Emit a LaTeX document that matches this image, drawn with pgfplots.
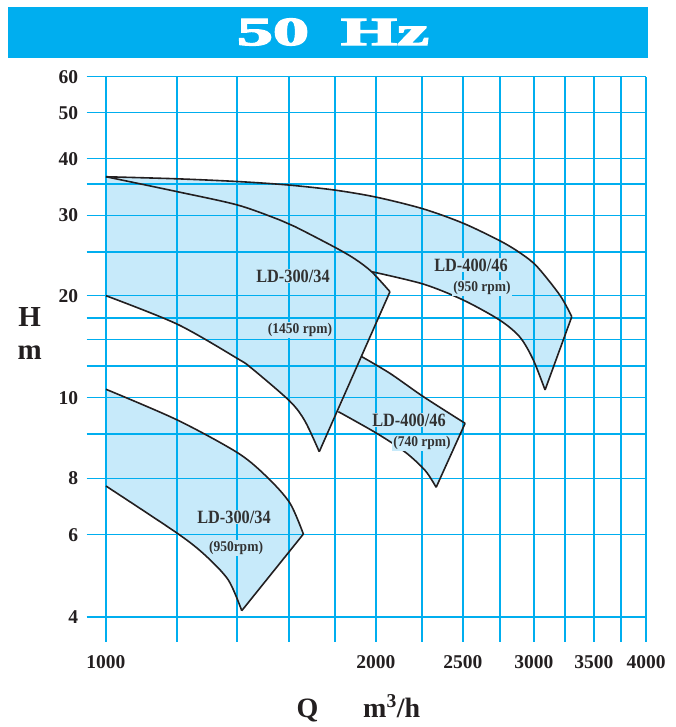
\documentclass[border=0pt]{standalone}
\usepackage{fontspec}
\setmainfont{Liberation Serif}
\newfontfamily\titlefont{Liberation Serif}[UprightFont={* Bold}, FakeBold=3]
\usepackage{pgfplots}
\usepackage{pgfplotstable}
\pgfplotsset{compat=1.18}
\definecolor{gridcyan}{RGB}{0,174,239}
\definecolor{bandblue}{RGB}{199,234,250}
\definecolor{inkc}{RGB}{35,31,32}
\definecolor{labc}{RGB}{50,50,50}
% the chart's H scale: piecewise logarithmic between its printed grid values (u = height in pt above the axis bottom)
\makeatletter
\pgfmathdeclarefunction{hpos}{1}{%
  \begingroup
  \pgfmathparse{ln(#1)}\let\myL\pgfmathresult
  \pgfmathparse{24.7+202.977*(\myL-1.386294)-6.927*max(\myL-1.791759,0)+180.06*max(\myL-2.079442,0)-31.58*max(\myL-2.197225,0)-202.47*max(\myL-2.302585,0)+3.29*max(\myL-2.525729,0)-5.88*max(\myL-2.708050,0)+27.53*max(\myL-2.862201,0)+28.84*max(\myL-2.995732,0)+4.35*max(\myL-3.218876,0)+4.16*max(\myL-3.401197,0)-14.88*max(\myL-3.555348,0)+16.67*max(\myL-3.688879,0)-8.69*max(\myL-3.912023,0)}%
  \pgfmath@smuggleone\pgfmathresult
  \endgroup}
\makeatother
% ---- region polygons (Q in m3/h, H in m) ----
\pgfplotstableread{
Q H
1000 36.37
1201 33.71
1402 31.58
1563 29.33
1625 28.37
1800 25.59
1895 24.12
1978 22.61
2073 20.41
1729 8.586
1667 9.341
1604 9.893
1454 12.29
1402 13.15
1201 16.74
1000 20.00
}\regA
\pgfplotstableread{
Q H
1000 36.37
1201 35.97
1402 35.46
1597 34.83
1800 33.97
2003 32.81
2259 30.98
2503 28.85
2750 26.43
2895 24.89
3022 23.24
3208 20.03
3306 17.64
3087 10.56
2995 13.04
2895 15.24
2750 17.21
2503 19.48
2259 21.22
1978 22.61
1895 24.12
1800 25.59
1625 28.37
1563 29.33
1402 31.58
1201 33.71
}\regB
\pgfplotstableread{
Q H
1928 13.33
2073 11.87
2259 10.07
2514 9.284
2334 7.641
2269 8.168
2155 8.580
2003 9.02
1816 9.602
}\regC
\pgfplotstableread{
Q H
1000 10.61
1201 9.373
1405 8.550
1517 8.00
1604 7.042
1660 6.02
1417 4.126
1369 4.80
1289 5.43
1201 6.043
1000 7.692
}\regD
% ---- outline curves ----
\pgfplotstableread{
Q H
1000 36.37
1201 33.71
1402 31.58
1563 29.33
1625 28.37
1800 25.59
1895 24.12
1978 22.61
2073 20.41
}\cAtop
\pgfplotstableread{
Q H
2073 20.41
1729 8.586
}\cAedge
\pgfplotstableread{
Q H
1000 20.00
1201 16.74
1402 13.15
1454 12.29
1604 9.893
1667 9.341
1729 8.586
}\cAlow
\pgfplotstableread{
Q H
1000 36.37
1201 35.97
1402 35.46
1597 34.83
1800 33.97
2003 32.81
2259 30.98
2503 28.85
2750 26.43
2895 24.89
3022 23.24
3208 20.03
3306 17.64
}\cBtop
\pgfplotstableread{
Q H
3306 17.64
3087 10.56
}\cBedge
\pgfplotstableread{
Q H
1978 22.61
2259 21.22
2503 19.48
2750 17.21
2895 15.24
2995 13.04
3087 10.56
}\cBlow
\pgfplotstableread{
Q H
1928 13.33
2073 11.87
2259 10.07
2514 9.284
}\cCtop
\pgfplotstableread{
Q H
2514 9.284
2334 7.641
}\cCedge
\pgfplotstableread{
Q H
1816 9.602
2003 9.02
2155 8.580
2269 8.168
2334 7.641
}\cClow
\pgfplotstableread{
Q H
1000 10.61
1201 9.373
1405 8.550
1517 8.00
1604 7.042
1660 6.02
}\cDtop
\pgfplotstableread{
Q H
1660 6.02
1417 4.126
}\cDedge
\pgfplotstableread{
Q H
1000 7.692
1201 6.043
1289 5.43
1369 4.80
1417 4.126
}\cDlow
\begin{document}
\begin{tikzpicture}[x=1pt,y=1pt]
\fill[gridcyan] (-78.7,583.4) rectangle (561.3,635.0);
\node[text=white, inner sep=0pt] at (246.3,609.7) {\scalebox{1.8}[1]{\titlefont\fontsize{40}{40}\selectfont 50\hspace{17.8pt}Hz}};
\begin{axis}[
  set layers,
  at={(0pt,0pt)}, anchor=south west,
  scale only axis, width=559.3pt, height=565pt,
  xmode=log, xmin=951.7, xmax=4000,
  ymin=0, ymax=565,
  axis line style={draw=none},
  major tick length=0pt,
  grid=major,
  major grid style={draw=gridcyan, line width=1.5pt},
  xtick={1000,1200,1400,1600,1800,2000,2250,2500,2750,3000,3250,3500,3750,4000},
  xticklabels={1000,,,,,2000,,2500,,3000,,3500,,4000},
  % grid values 4,6,8,9,10,12.5,15,17.5,20,25,30,35,40,50,60 placed by hpos
  ytick={24.7,107.0,163.4,207.7,244.0,275.7,302.2,323.7,346.0,389.7,426.2,457.7,483.0,529.0,565.0},
  yticklabels={4,6,8,,10,,,,20,,30,,40,50,60},
  xticklabel style={anchor=north, inner sep=0pt, yshift=-13.3pt, font=\fontsize{19.5}{20}\selectfont\bfseries, text=inkc},
  yticklabel style={anchor=east, inner sep=0pt, xshift=-8.4pt, font=\fontsize{19.5}{20}\selectfont\bfseries, text=inkc},
  clip=false,
  no markers,
  table/x=Q,
  table/y expr={hpos(\thisrow{H})},
]
% ---- fills ----
\addplot[fill=bandblue, draw=none, on layer=axis background] table {\regA} -- cycle;
\addplot[fill=bandblue, draw=none, on layer=axis background] table {\regB} -- cycle;
\addplot[fill=bandblue, draw=none, on layer=axis background] table {\regC} -- cycle;
\addplot[fill=bandblue, draw=none, on layer=axis background] table {\regD} -- cycle;
% ---- outlines ----
\addplot[draw=inkc, line width=1.6pt, smooth, line join=round] table {\cAtop};
\addplot[draw=inkc, line width=1.6pt, line join=round] table {\cAedge};
\addplot[draw=inkc, line width=1.6pt, smooth, line join=round] table {\cAlow};
\addplot[draw=inkc, line width=1.6pt, smooth, line join=round] table {\cBtop};
\addplot[draw=inkc, line width=1.6pt, line join=round] table {\cBedge};
\addplot[draw=inkc, line width=1.6pt, smooth, line join=round] table {\cBlow};
\addplot[draw=inkc, line width=1.6pt, smooth, line join=round] table {\cCtop};
\addplot[draw=inkc, line width=1.6pt, line join=round] table {\cCedge};
\addplot[draw=inkc, line width=1.6pt, smooth, line join=round] table {\cClow};
\addplot[draw=inkc, line width=1.6pt, smooth, line join=round] table {\cDtop};
\addplot[draw=inkc, line width=1.6pt, line join=round] table {\cDedge};
\addplot[draw=inkc, line width=1.6pt, smooth, line join=round] table {\cDlow};
\end{axis}
% curve labels
\tikzset{lab/.style={text=labc, fill=bandblue, inner sep=1pt, font=\fontsize{16.3}{17}\selectfont\bfseries},
         sub/.style={text=labc, fill=bandblue, inner sep=1pt, font=\fontsize{13.5}{14}\selectfont\bfseries}}
\node[lab] at (206.3,365.7) {\scalebox{1}[1.15]{LD-300/34}};
\node[sub] at (213.3,311.7) {\scalebox{1}[1.1]{(1450 rpm)}};
\node[lab] at (384.3,376.7) {\scalebox{1}[1.15]{LD-400/46}};
\node[sub] at (395.3,353.7) {\scalebox{1}[1.1]{(950 rpm)}};
\node[lab] at (322.3,221.7) {\scalebox{1}[1.15]{LD-400/46}};
\node[sub] at (335.3,198.7) {\scalebox{1}[1.1]{(740 rpm)}};
\node[lab] at (147.3,124.7) {\scalebox{1}[1.15]{LD-300/34}};
\node[sub] at (149.3,93.7) {\scalebox{1}[1.1]{(950rpm)}};
% axis titles
\node[anchor=base, text=inkc, font=\fontsize{29}{30}\selectfont\bfseries] at (-57,315) {H};
\node[anchor=base, text=inkc, font=\fontsize{29}{30}\selectfont\bfseries] at (-57,281.7) {m};
\node[anchor=base, text=inkc, font=\fontsize{28}{30}\selectfont\bfseries] at (220.8,-75.3) {Q};
\node[anchor=base west, inner sep=0pt, text=inkc, font=\fontsize{28}{30}\selectfont\bfseries] at (276.3,-75.3) {m\textsuperscript{3}/h};
\path (-86.7,-85.3) rectangle (588.3,641.7);
\end{tikzpicture}
\end{document}
